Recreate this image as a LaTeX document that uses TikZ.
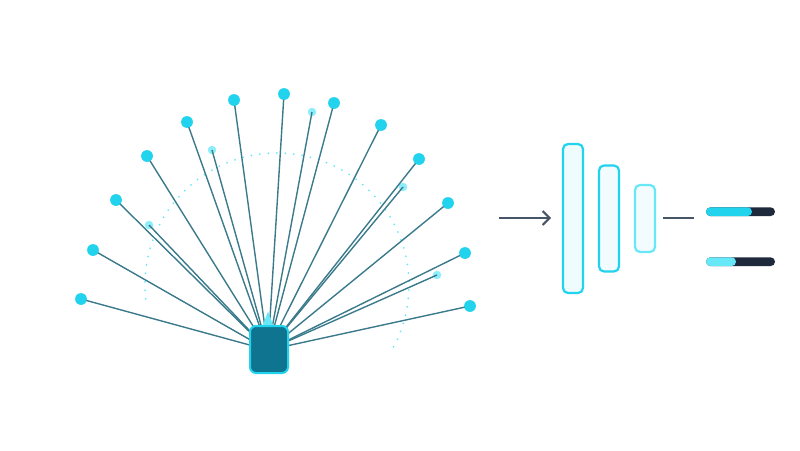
\documentclass[tikz,border=0pt]{standalone}
\usetikzlibrary{arrows.meta}
\definecolor{cyanA}{HTML}{22D3EE}
\definecolor{cyanB}{HTML}{67E8F9}
\definecolor{teal}{HTML}{0E7490}
\definecolor{spoke}{HTML}{3A7A8B}
\definecolor{slate}{HTML}{475569}
\definecolor{navy}{HTML}{1E293B}
\definecolor{paleA}{HTML}{EEFCFE}
\definecolor{paleB}{HTML}{F2FCFE}
\tikzset{
  bigdot/.style={circle,fill=cyanA,inner sep=0pt,minimum size=11.5pt},
  smalldot/.style={circle,fill=cyanB,fill opacity=0.75,inner sep=0pt,minimum size=8.5pt},
  spokeline/.style={draw=spoke,line width=1.4pt},
  layerbox/.style={draw=cyanA,line width=2.2pt,fill=paleA,rounded corners=5pt,inner sep=0pt},
  flowline/.style={draw=slate,line width=2pt},
}
\begin{document}
\begin{tikzpicture}[x=1pt,y=-1pt]
\useasboundingbox (0,0) rectangle (800,450);
% dotted arc
\draw[cyanB,line width=2pt,line cap=round,dash pattern=on 0pt off 8.5pt]
  (277,285) ++(174:132) arc[start angle=174,end angle=389,radius=132];
\coordinate (hub) at (268,350);
% outer dots
\node[bigdot] (o1) at (81,299) {};
\node[bigdot] (o2) at (93,250) {};
\node[bigdot] (o3) at (116,200) {};
\node[bigdot] (o4) at (147,156) {};
\node[bigdot] (o5) at (187,122) {};
\node[bigdot] (o6) at (234,100) {};
\node[bigdot] (o7) at (284,94) {};
\node[bigdot] (o8) at (334,103) {};
\node[bigdot] (o9) at (381,125) {};
\node[bigdot] (o10) at (419,159) {};
\node[bigdot] (o11) at (448,203) {};
\node[bigdot] (o12) at (465,253) {};
\node[bigdot] (o13) at (470,306) {};
% inner dots
\node[smalldot] (i1) at (212,150) {};
\node[smalldot] (i2) at (312,112) {};
\node[smalldot] (i3) at (149,225) {};
\node[smalldot] (i4) at (403,187) {};
\node[smalldot] (i5) at (437,275) {};
% spokes
\foreach \n in {o1,o2,o3,o4,o5,o6,o7,o8,o9,o10,o11,o12,o13,i1,i2,i3,i4,i5}
  \draw[spokeline] (\n.center) -- (hub);
% redraw dots above lines
\foreach \n in {o1,o2,o3,o4,o5,o6,o7,o8,o9,o10,o11,o12,o13}
  \fill[cyanA] (\n.center) circle (5.75pt);
% triangle and box
\fill[cyanB] (262.5,326) -- (268,311.5) -- (273.5,326) -- cycle;
\node[draw=cyanA,line width=2pt,fill=teal,rounded corners=6pt,minimum width=38pt,minimum height=47pt,inner sep=0pt] (enc) at (269,349.5) {};
% arrow
\coordinate (a0) at (499,218);
\coordinate (a1) at (551,218);
\draw[flowline,-{Straight Barb[length=7pt,width=14pt,line width=2pt]}] (a0) -- (a1);
% layers
\node[layerbox,minimum width=20pt,minimum height=149pt] (l1) at (573,218.5) {};
\node[layerbox,minimum width=20pt,minimum height=106pt,fill=paleB] (l2) at (609,218.5) {};
\node[layerbox,draw=cyanB,minimum width=20pt,minimum height=67pt,fill=paleB] (l3) at (645,218.5) {};
\coordinate (b0) at (663,218);
\coordinate (b1) at (694,218);
\draw[flowline] (b0) -- (b1);
% progress bars
\node[fill=navy,rounded corners=4.3pt,minimum width=69pt,minimum height=8.7pt,inner sep=0pt] (p1) at (740.5,211.7) {};
\fill[cyanA,rounded corners=4.3pt] (706,207.35) rectangle (752,216.05);
\node[fill=navy,rounded corners=4.3pt,minimum width=69pt,minimum height=8.7pt,inner sep=0pt] (p2) at (740.5,261.7) {};
\fill[cyanB,rounded corners=4.3pt] (706,257.35) rectangle (736,266.05);
\end{tikzpicture}
\end{document}
